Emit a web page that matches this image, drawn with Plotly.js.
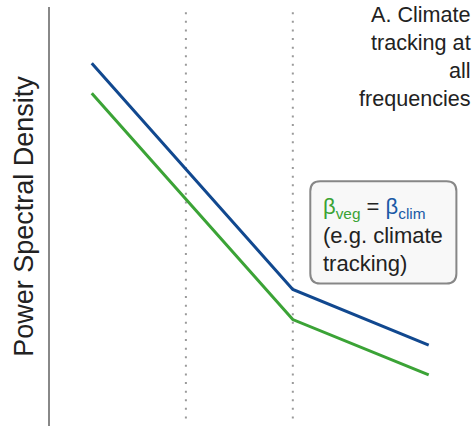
<!DOCTYPE html>
<html>
<head>
<meta charset="utf-8">
<script src="https://cdn.plot.ly/plotly-3.0.1.min.js"></script>
<style>html,body{margin:0;padding:0;background:#fff;}#chart{width:476px;height:426px;}</style>
</head>
<body>
<div id="chart"></div>
<script>
// Frequency positions (arbitrary log-frequency units) and PSD levels (arbitrary log units)
var freqs = [9.8, 57, 88.9];
var psdClim = [86.6, 32.6, 19.3];
var psdVeg = [79.4, 25.4, 12.2];
var scaleBreaks = [31.9, 57];
var titleLines = ["A. Climate", "tracking at", "all", "frequencies"];
var boxLines = ["<span style='color:#3aa335'>β<sub>veg</sub></span> = <span style='color:#1a5aa6'>β<sub>clim</sub></span>", "(e.g. climate", "tracking)"];

var blue = "#11488f";
var green = "#3ba336";

var traces = [
  {x: freqs, y: psdClim, mode: "lines", line: {color: blue, width: 3}, hoverinfo: "skip", name: "climate"},
  {x: freqs, y: psdVeg, mode: "lines", line: {color: green, width: 3}, hoverinfo: "skip", name: "vegetation"}
];

var shapes = scaleBreaks.map(function (b) {
  return {type: "line", xref: "x", yref: "y", x0: b, x1: b, y0: 1.8, y1: 99.6,
          line: {color: "#9a9a9a", width: 2, dash: "2px,6.6px"}, layer: "below"};
});

// rounded box
var bx0 = 61.1, bx1 = 95.4, by0 = 34.0, by1 = 58.4, rx = 2.3, ry = 2.4;
var p = "M" + (bx0 + rx) + "," + by1 +
  " L" + (bx1 - rx) + "," + by1 + " Q" + bx1 + "," + by1 + " " + bx1 + "," + (by1 - ry) +
  " L" + bx1 + "," + (by0 + ry) + " Q" + bx1 + "," + by0 + " " + (bx1 - rx) + "," + by0 +
  " L" + (bx0 + rx) + "," + by0 + " Q" + bx0 + "," + by0 + " " + bx0 + "," + (by0 + ry) +
  " L" + bx0 + "," + (by1 - ry) + " Q" + bx0 + "," + by1 + " " + (bx0 + rx) + "," + by1 + " Z";
shapes.push({type: "path", xref: "x", yref: "y", path: p, fillcolor: "#f8f8f8",
             line: {color: "#878787", width: 2}, layer: "above"});

var annotations = [{
  xref: "x", yref: "y", x: 63.7, y: 55.8, xanchor: "left", yanchor: "top",
  text: boxLines.join("<br>"), showarrow: false, align: "left",
  font: {family: "Liberation Sans, Arial, sans-serif", size: 22, color: "#222222"}
}, {
  xref: "paper", yref: "paper", x: 1, y: 1, xanchor: "right", yanchor: "top", xshift: -3, yshift: 7,
  text: titleLines.join("<br>"), showarrow: false, align: "right",
  font: {family: "Liberation Sans, Arial, sans-serif", size: 21.6, color: "#222222"}
}];

var layout = {
  width: 476, height: 426,
  margin: {l: 49.5, r: 0, t: 7, b: 0},
  paper_bgcolor: "#ffffff", plot_bgcolor: "#ffffff",
  showlegend: false,
  xaxis: {range: [0, 100], showgrid: false, zeroline: false, showticklabels: false, ticks: "", showline: false, fixedrange: true},
  yaxis: {range: [0, 100], showgrid: false, zeroline: false, showticklabels: false, ticks: "",
          showline: true, linecolor: "#888888", linewidth: 2, fixedrange: true,
          title: {text: "Power Spectral Density", standoff: 7,
                  font: {family: "Liberation Sans, Arial, sans-serif", size: 27, color: "#222222"}}},
  shapes: shapes,
  annotations: annotations
};

Plotly.newPlot("chart", traces, layout, {displayModeBar: false, staticPlot: true});
</script>
</body>
</html>
